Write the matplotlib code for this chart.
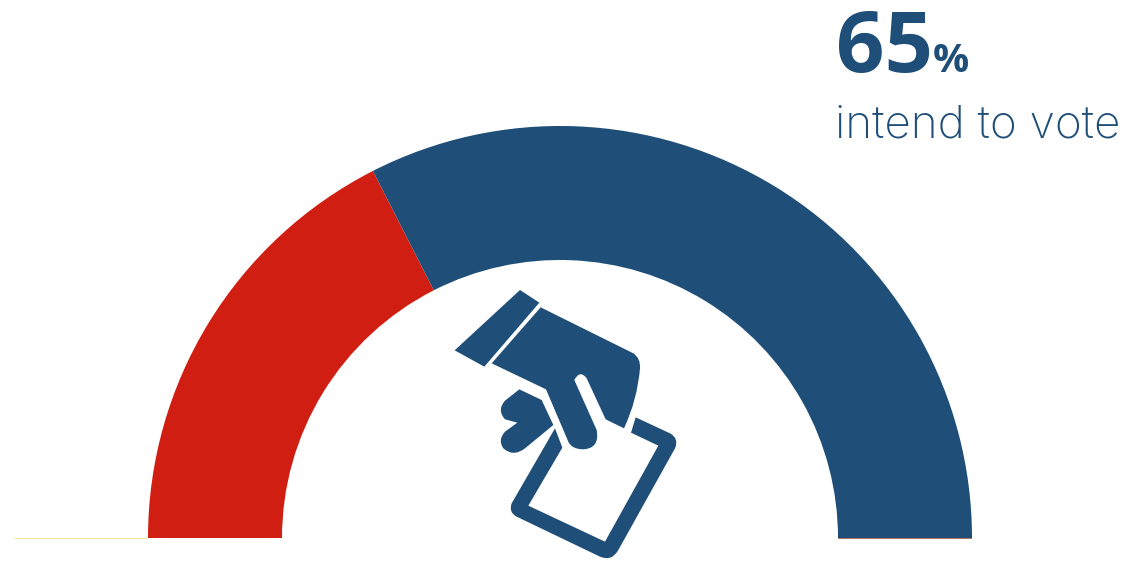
import matplotlib
matplotlib.use("Agg")
import matplotlib.pyplot as plt
from matplotlib.path import Path
from matplotlib.patches import PathPatch

categories = ["do not intend to vote", "intend to vote"]
shares = [35, 65]
colors = ["#D01F12", "#1F4E79"]
BLUE = "#1F4E79"
W, H = 1134, 562


def icon(ax, cmds):
    # icon outline given in image pixels, y measured from the top
    verts, codes = [], []
    for c in cmds:
        if len(c) == 2:
            verts.append((c[0], H - c[1]))
            codes.append(Path.LINETO if verts[:-1] else Path.MOVETO)
        else:
            verts += [(c[0], H - c[1]), (c[2], H - c[3])]
            codes += [Path.CURVE3, Path.CURVE3]
    verts.append(verts[0])
    codes.append(Path.CLOSEPOLY)
    ax.add_patch(PathPatch(Path(verts, codes), fc=BLUE, ec="none", zorder=3))


def z(*pts):
    # from the 3x crop of the icon to image pixels
    return [tuple((440 + v / 3) if i % 2 == 0 else (280 + v / 3) for i, v in enumerate(p)) for p in pts]


fig = plt.figure(figsize=(W / 100, H / 100), dpi=100)
ax = fig.add_axes([0, 0, 1, 1])

# half donut: the lower half is an empty share as big as the visible ones
ax.pie(shares + [sum(shares)], colors=colors + ["none"], startangle=180,
       counterclock=False, radius=412, center=(560, H - 538),
       wedgeprops=dict(width=134, linewidth=0))
ax.set_xlim(0, W)
ax.set_ylim(0, H)
ax.axis("off")

# hairlines along the baseline
ax.plot([14, 148], [H - 538.5, H - 538.5], color="#FFE89A", lw=0.72, solid_capstyle="butt", snap=False)
ax.plot([838, 972], [H - 538.5, H - 538.5], color="#B0755F", lw=0.72, solid_capstyle="butt", snap=False)

# cuff
icon(ax, z((240, 30), (298, 68), (133, 260), (44, 211)))
# hand
icon(ax, z((302, 82), (580, 220), (602, 235, 600, 265), (592, 360, 552, 445), (497, 418),
           (440, 295), (420, 268, 403, 300), (470, 450), (480, 505, 430, 508),
           (395, 508, 385, 485), (318, 328), (155, 250)))
# thumb
icon(ax, z((238, 328), (305, 360), (340, 435), (255, 505), (220, 532, 190, 505),
           (172, 480, 195, 455), (232, 428), (195, 418), (170, 390, 195, 362)))
# ballot card
icon(ax, z((345, 445), (215, 670), (205, 697, 230, 710), (480, 830), (515, 845, 535, 810),
           (705, 505), (718, 475, 690, 460), (587, 412), (573, 458), (655, 497),
           (495, 785), (265, 677), (367, 503)))

ax.text(836, H - 72, str(shares[1]), family="Open Sans", weight="bold", fontsize=61,
        color=BLUE, ha="left", va="baseline")
ax.text(933, H - 72, "%", family="Open Sans", weight="bold", fontsize=29,
        color=BLUE, ha="left", va="baseline")
ax.text(835, H - 137, categories[1], family="Inter", weight="light", fontsize=33,
        color=BLUE, ha="left", va="baseline")

fig.savefig("out.png", dpi=100)
